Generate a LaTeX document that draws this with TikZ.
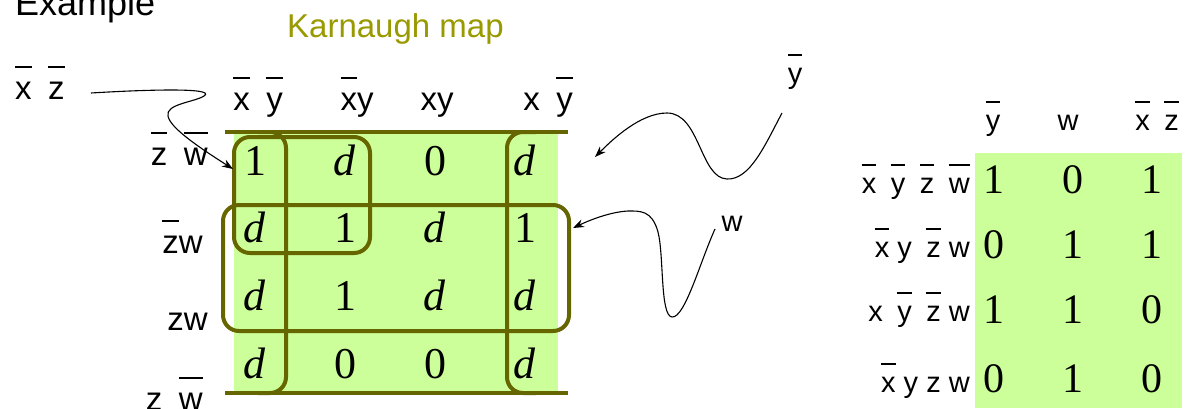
\documentclass[tikz,border=0pt]{standalone}
\usepackage{fontspec}
\setmainfont{Liberation Serif}
\newfontfamily\lsans{Liberation Sans}
\usetikzlibrary{arrows.meta}

\definecolor{cellgreen}{HTML}{CCFF99}
\definecolor{loopolive}{HTML}{666600}
\definecolor{titleolive}{HTML}{999900}

% letter with a bar over it, and the wider gap before such a letter
\newcommand{\nbar}[1]{\setbox0=\hbox{#1}\makebox[0pt][l]{\rule[0.93em]{\wd0}{0.06em}}\box0\relax}
\newcommand{\bsp}{\hspace{0.5em}}
\newcommand{\dc}{\textit{d}}

\begin{document}
\begin{tikzpicture}[x=1pt, y=-1pt,
  every node/.style={inner sep=0pt, anchor=base},
  lbl/.style={font=\lsans\fontsize{33}{36}\selectfont},
  tlbl/.style={font=\lsans\fontsize{29}{32}\selectfont},
  num/.style={font=\fontsize{44}{48}\selectfont},
  tnum/.style={font=\fontsize{42}{46}\selectfont},
  loop/.style={draw=loopolive, line width=4pt, rounded corners=16pt},
  pointer/.style={-{Stealth[length=11pt,width=8pt]}, line width=1.1pt}]
  \useasboundingbox (0,0) rectangle (1192,408);
  \clip (0,0) rectangle (1192,408);

  \node[font=\lsans\fontsize{36}{40}\selectfont, anchor=base west] (title) at (15,15) {Example};
  \node[font=\lsans\fontsize{33}{36}\selectfont, text=titleolive, anchor=base west] (kmap) at (287,37) {Karnaugh map};

  % the map
  \fill[cellgreen] (234,132) rectangle (558,395);
  \node[lbl] (c1) at (258,110) {\nbar{x}\bsp\nbar{y}};
  \node[lbl] (c2) at (357,110) {\nbar{x}y};
  \node[lbl] (c3) at (437,110) {xy};
  \node[lbl] (c4) at (548,110) {x\bsp\nbar{y}};
  \node[lbl, anchor=base east] (r1) at (208,165) {\nbar{z}\bsp\nbar{w}};
  \node[lbl, anchor=base east] (r2) at (203,253) {\nbar{z}w};
  \node[lbl, anchor=base east] (r3) at (208,330) {zw};
  \node[lbl, anchor=base east] (r4) at (203,410) {z\bsp\nbar{w}};

  \foreach \row/\by/\cells in {1/175/{1,\dc,0,\dc}, 2/242/{\dc,1,\dc,1},
                               3/310/{\dc,1,\dc,\dc}, 4/378/{\dc,0,0,\dc}}
    \foreach \v [count=\col] in \cells
      \node[num] (m\row\col) at ({165+90*\col},\by) {\v};

  % loops
  \draw[loopolive, line width=4pt] (225,132) -- (568,132);
  \draw[loopolive, line width=4pt] (225,393) -- (568,393);
  \draw[loop] (258,132) -- (286,132) -- (286,393) -- (258,393);
  \draw[loop] (536,132) -- (507,132) -- (507,393) -- (536,393);
  \draw[loop] (234,137) rectangle (370,253);
  \draw[loop] (223,205) rectangle (569,331);

  % pointers
  \node[lbl, anchor=base west] (xz) at (15,99) {\nbar{x}\bsp\nbar{z}};
  \node[tlbl] (yb) at (795,83) {\nbar{y}};
  \node[tlbl] (w) at (732,231) {w};
  \coordinate (xzout) at (91,93);
  \coordinate (xzin) at (233,169);
  \coordinate (ybout) at (782,113);
  \coordinate (ybin) at (595,157);
  \coordinate (wout) at (715,229);
  \coordinate (win) at (573,228);
  \draw[pointer] (xzout) .. controls (140,90) and (218,87) .. (204,96)
    .. controls (195,102) and (165,104) .. (168,116)
    .. controls (170,128) and (200,148) .. (xzin);
  \draw[pointer] (ybout) .. controls (765,145) and (750,180) .. (727,179)
    .. controls (700,178) and (700,113) .. (667,113)
    .. controls (640,113) and (612,140) .. (ybin);
  \draw[pointer] (wout) .. controls (700,262) and (685,318) .. (672,317)
    .. controls (660,316) and (664,255) .. (658,232)
    .. controls (652,210) and (640,211) .. (628,211)
    .. controls (610,212) and (590,220) .. (win);

  % the table
  \fill[cellgreen] (975,153) rectangle (1182,408);
  \node[tlbl] (h1) at (993,130) {\nbar{y}};
  \node[tlbl] (h2) at (1068,130) {w};
  \node[tlbl] (h3) at (1157,130) {\nbar{x}\bsp\nbar{z}};
  \node[tlbl, anchor=base east] (t1) at (970,193) {\nbar{x}\bsp\nbar{y}\bsp\nbar{z}\bsp\nbar{w}};
  \node[tlbl, anchor=base east] (t2) at (970,257) {\nbar{x} y\bsp\nbar{z} w};
  \node[tlbl, anchor=base east] (t3) at (970,321) {x\bsp\nbar{y}\bsp\nbar{z} w};
  \node[tlbl, anchor=base east] (t4) at (970,392) {\nbar{x} y z w};
  \foreach \row/\by/\cells in {1/193/{1,0,1}, 2/258/{0,1,1},
                               3/323/{1,1,0}, 4/392/{0,1,0}}
    \foreach \v [count=\col] in \cells
      \node[tnum] (s\row\col) at ({915+79*\col},\by) {\v};
\end{tikzpicture}
\end{document}
